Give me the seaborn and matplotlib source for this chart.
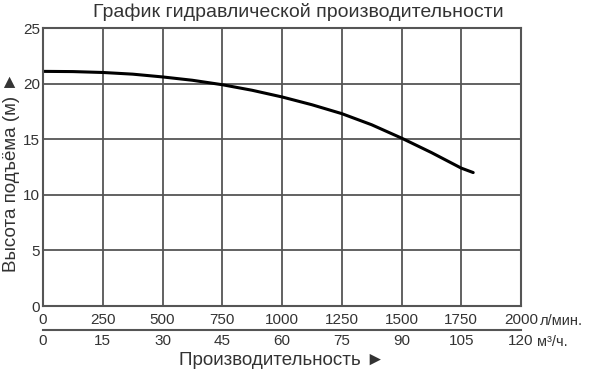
import matplotlib
matplotlib.use("Agg")
import matplotlib.pyplot as plt
import seaborn as sns
import pandas as pd

flow_lpm = [0, 125, 250, 375, 500, 625, 750, 875, 1000, 1125, 1250, 1375, 1500, 1625, 1750, 1800]
head_m = [21.1, 21.08, 21.0, 20.85, 20.6, 20.3, 19.9, 19.4, 18.8, 18.1, 17.3, 16.3, 15.1, 13.8, 12.4, 12.0]
x_ticks_lpm = [0, 250, 500, 750, 1000, 1250, 1500, 1750, 2000]
x_ticks_m3h = [0, 15, 30, 45, 60, 75, 90, 105, 120]
y_ticks = [0, 5, 10, 15, 20, 25]

title = "График гидравлической производительности"
ylabel = "Высота подъёма (м) ►"
xlabel = "Производительность ►"

sns.set_theme(style="white")
plt.rcParams['font.family'] = ['Liberation Sans', 'DejaVu Sans']
txt = "#333333"
gridc = "#555555"
fs = 11

fig = plt.figure(figsize=(5.89, 3.78), dpi=100)
ax = fig.add_axes([43/589, 1-306/378, (521-43)/589, (306-28)/378])

df = pd.DataFrame({"q": flow_lpm, "h": head_m})
sns.lineplot(data=df, x="q", y="h", ax=ax, color="black", linewidth=2.2)

ax.set_xlim(0, 2000)
ax.set_ylim(0, 25)
ax.set_xticks(x_ticks_lpm)
ax.set_yticks(y_ticks)
ax.set_xticklabels([str(v) for v in x_ticks_lpm], fontsize=fs, color=txt)
ax.set_yticklabels([str(v) for v in y_ticks], fontsize=fs, color=txt)
ax.grid(True, color=gridc, linewidth=1.3)
for s in ax.spines.values():
    s.set_color(gridc)
    s.set_linewidth(1.5)
ax.tick_params(axis='x', length=0, pad=5)
ax.tick_params(axis='y', length=0, pad=2)
ax.set_xlabel("")
ax.set_ylabel(ylabel, fontsize=13.5, color=txt)
ax.yaxis.set_label_coords(-0.048, 0.48)

sec = ax.secondary_xaxis(-0.086, functions=(lambda x: x*0.06, lambda x: x/0.06))
sec.set_xticks(x_ticks_m3h)
sec.set_xticklabels([str(v) for v in x_ticks_m3h], fontsize=fs, color=txt)
for name, sp in sec.spines.items():
    if name == 'bottom':
        sp.set_visible(True)
        sp.set_color(gridc)
        sp.set_linewidth(1.5)
sec.tick_params(axis='x', length=0, pad=3)
sec.set_xlabel(xlabel, fontsize=13.5, color=txt, labelpad=3)

fig.text(540/589, 1-321/378, "л/мин.", fontsize=10.5, color=txt, va='center', ha='left')
fig.text(537/589, 1-342/378, "м³/ч.", fontsize=10.5, color=txt, va='center', ha='left')
fig.text(298/589, 1-12/378, title, fontsize=14, color=txt, va='center', ha='center')

fig.savefig("out.png", dpi=100)
